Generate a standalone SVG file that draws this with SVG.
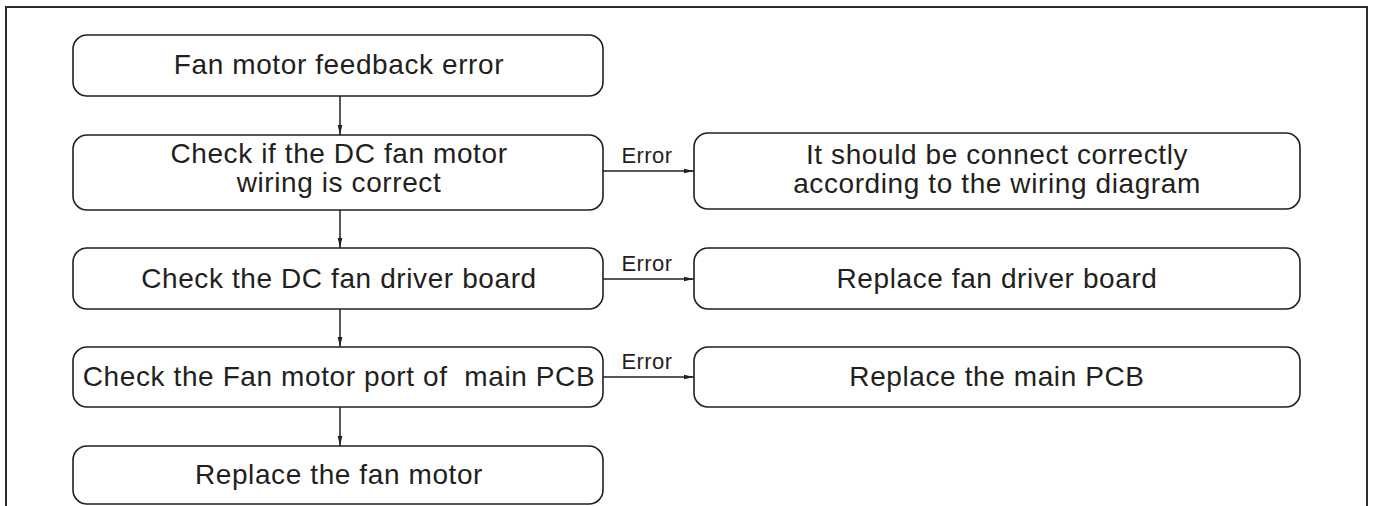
<svg xmlns="http://www.w3.org/2000/svg" width="1373" height="506" viewBox="0 0 1373 506">
<style>
.box{fill:#fff;stroke:#231f20;stroke-width:1.6}
.t{font-family:"Liberation Sans",Arial,sans-serif;font-size:28px;letter-spacing:0.6px;fill:#231f20;text-anchor:middle}
.e{font-family:"Liberation Sans",Arial,sans-serif;font-size:22px;letter-spacing:0.4px;fill:#231f20;text-anchor:middle}
.c{stroke:#231f20;stroke-width:1.5;fill:none;marker-end:url(#ah)}
</style>
<defs>
<marker id="ah" markerUnits="userSpaceOnUse" markerWidth="11" markerHeight="6" refX="10" refY="3" orient="auto">
<path d="M0,0.7 L10,3 L0,5.3 Z" fill="#231f20"/>
</marker>
</defs>
<rect width="1373" height="506" fill="#fff"/>
<path d="M6,506 V7 H1367 V506" fill="none" stroke="#2b2b2b" stroke-width="2"/>
<g id="connectors">
<line class="c" x1="340" y1="96" x2="340" y2="135"/>
<line class="c" x1="340" y1="210" x2="340" y2="248"/>
<line class="c" x1="340" y1="309" x2="340" y2="347"/>
<line class="c" x1="340" y1="407" x2="340" y2="446"/>
<line class="c" x1="603" y1="171" x2="694" y2="171"/>
<line class="c" x1="603" y1="279" x2="694" y2="279"/>
<line class="c" x1="603" y1="377" x2="694" y2="377"/>
<text class="e" x="647" y="163">Error</text>
<text class="e" x="647" y="271">Error</text>
<text class="e" x="647" y="369">Error</text>
</g>
<g id="n1">
<rect class="box" x="73" y="35" width="530" height="61" rx="14"/>
<text class="t" x="339" y="74">Fan motor feedback error</text>
</g>
<g id="n2">
<rect class="box" x="73" y="135" width="530" height="75" rx="14"/>
<text class="t" x="339" y="163">Check if the DC fan motor</text>
<text class="t" x="339" y="192">wiring is correct</text>
</g>
<g id="n3">
<rect class="box" x="694" y="133" width="606" height="76" rx="14"/>
<text class="t" x="997" y="164">It should be connect correctly</text>
<text class="t" x="997" y="193">according to the wiring diagram</text>
</g>
<g id="n4">
<rect class="box" x="73" y="248" width="530" height="61" rx="14"/>
<text class="t" x="339" y="288">Check the DC fan driver board</text>
</g>
<g id="n5">
<rect class="box" x="694" y="248" width="606" height="61" rx="14"/>
<text class="t" x="997" y="288">Replace fan driver board</text>
</g>
<g id="n6">
<rect class="box" x="73" y="347" width="530" height="60" rx="14"/>
<text class="t" x="339" y="386" xml:space="preserve">Check the Fan motor port of  main PCB</text>
</g>
<g id="n7">
<rect class="box" x="694" y="347" width="606" height="60" rx="14"/>
<text class="t" x="997" y="386">Replace the main PCB</text>
</g>
<g id="n8">
<rect class="box" x="73" y="446" width="530" height="58" rx="14"/>
<text class="t" x="339" y="484">Replace the fan motor</text>
</g>
</svg>
